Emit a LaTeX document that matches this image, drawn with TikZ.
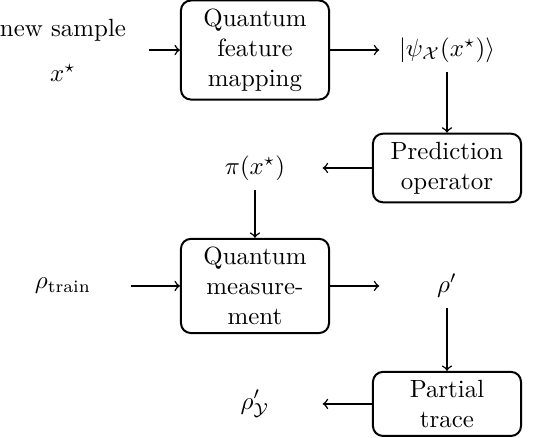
\documentclass[tikz,border=0pt]{standalone}
\usepackage{amsmath}
\begin{document}
\begin{tikzpicture}[>=to, semithick,
	box/.style={draw, thick, rounded corners=4pt, align=center, text width=1.85cm, minimum width=2.09cm},
	val/.style={minimum width=1.89cm, minimum height=0.6cm}]
	\useasboundingbox (-0.889,0.706) rectangle (6.648,-5.476);
	% first row
	\node[val, align=center, minimum width=2.4cm] (new) at (0,0) {new sample\\[6pt] $x^\star$};
	\node[box] (qfm) at (2.71,0) {Quantum\\ feature\\ mapping};
	\node[val] (psi) at (5.42,0) {$\lvert\psi_{\mathcal{X}}(x^\star)\rangle$};
	% second row
	\node[box] (pred) at (5.42,-1.665) {Prediction\\ operator};
	\node[val] (pi) at (2.71,-1.665) {$\pi(x^\star)$};
	% third row
	\node[val] (train) at (0,-3.33) {$\rho_{\text{train}}$};
	\node[box] (meas) at (2.71,-3.33) {Quantum\\ measure-\\ ment};
	\node[val] (rho) at (5.42,-3.33) {$\rho'$};
	% fourth row
	\node[box] (trace) at (5.42,-4.995) {Partial\\ trace};
	\node[val] (rhoy) at (2.71,-4.995) {$\rho'_{\mathcal{Y}}$};
	\draw[->] (new) -- (qfm);
	\draw[->] (qfm) -- (psi);
	\draw[->] (psi) -- (pred);
	\draw[->] (pred) -- (pi);
	\draw[->] (pi) -- (meas);
	\draw[->] (train) -- (meas);
	\draw[->] (meas) -- (rho);
	\draw[->] (rho) -- (trace);
	\draw[->] (trace) -- (rhoy);
\end{tikzpicture}
\end{document}
